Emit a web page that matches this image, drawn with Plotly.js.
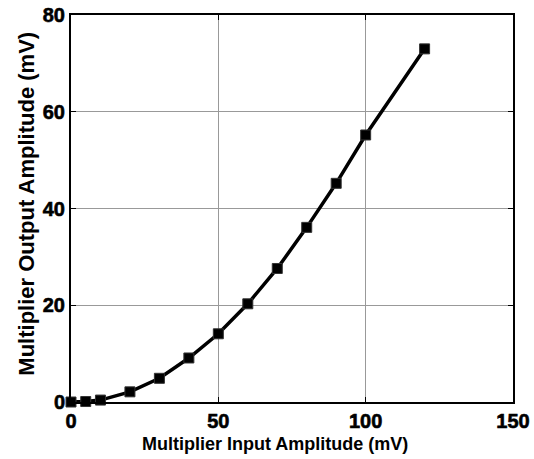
<!DOCTYPE html>
<html><head><meta charset="utf-8">
<script src="https://cdn.plot.ly/plotly-3.0.1.min.js"></script>
<style>
html,body{margin:0;padding:0;background:#fff}
.xtick text, .ytick text {font-weight: bold !important; stroke: #000; stroke-width: 0.6px;}
</style>
</head><body>
<div id="chart" style="width:534px;height:459px"></div>
<script>
const inputAmplitude = [0, 5, 10, 20, 30, 40, 50, 60, 70, 80, 90, 100, 120];
const outputAmplitude = [0, 0.1, 0.4, 2.1, 4.9, 9.1, 14.1, 20.3, 27.6, 36.1, 45.2, 55.2, 73.0];
const xTicks = [0, 50, 100, 150];
const yTicks = [0, 20, 40, 60, 80];
const xTitle = 'Multiplier Input Amplitude (mV)';
const yTitle = 'Multiplier Output Amplitude (mV)';

const fam = 'Liberation Sans, Arial, sans-serif';
const tickFont = {family: fam, color: '#000', size: 20, weight: 'bold'};
Plotly.newPlot('chart', [{
  x: inputAmplitude, y: outputAmplitude, type: 'scatter', mode: 'lines+markers',
  line: {color: '#000', width: 3.5},
  marker: {symbol: 'square', size: 10, color: '#000', line: {color: '#333', width: 1}},
  cliponaxis: false
}], {
  width: 534, height: 459,
  margin: {l: 70.5, r: 21, t: 15, b: 57},
  paper_bgcolor: '#fff', plot_bgcolor: '#fff',
  showlegend: false,
  xaxis: {
    range: [0, 150], tickvals: xTicks, ticktext: xTicks.map(String),
    showgrid: true, gridcolor: '#999', gridwidth: 1, zeroline: false,
    showline: true, linecolor: '#000', linewidth: 2, mirror: 'ticks',
    ticks: 'inside', ticklen: 5, tickcolor: '#000', tickwidth: 1,
    tickfont: tickFont, ticklabelstandoff: 0
  },
  yaxis: {
    range: [0, 80], tickvals: yTicks, ticktext: yTicks.map(String),
    showgrid: true, gridcolor: '#999', gridwidth: 1, zeroline: false,
    showline: true, linecolor: '#000', linewidth: 2, mirror: 'ticks',
    ticks: 'inside', ticklen: 5, tickcolor: '#000', tickwidth: 1,
    tickfont: tickFont, ticklabelstandoff: 0
  },
  annotations: [
    {text: '<b>' + xTitle + '</b>', xref: 'paper', yref: 'paper', x: 0.462, y: -0.108,
     xanchor: 'center', yanchor: 'middle', showarrow: false,
     font: {family: fam, color: '#000', size: 18}},
    {text: '<b>' + yTitle + '</b>', xref: 'paper', yref: 'paper', x: -0.1, y: 0.512,
     xanchor: 'center', yanchor: 'middle', showarrow: false, textangle: -90,
     font: {family: fam, color: '#000', size: 22}}
  ]
}, {displayModeBar: false, staticPlot: true});
</script>
</body></html>
